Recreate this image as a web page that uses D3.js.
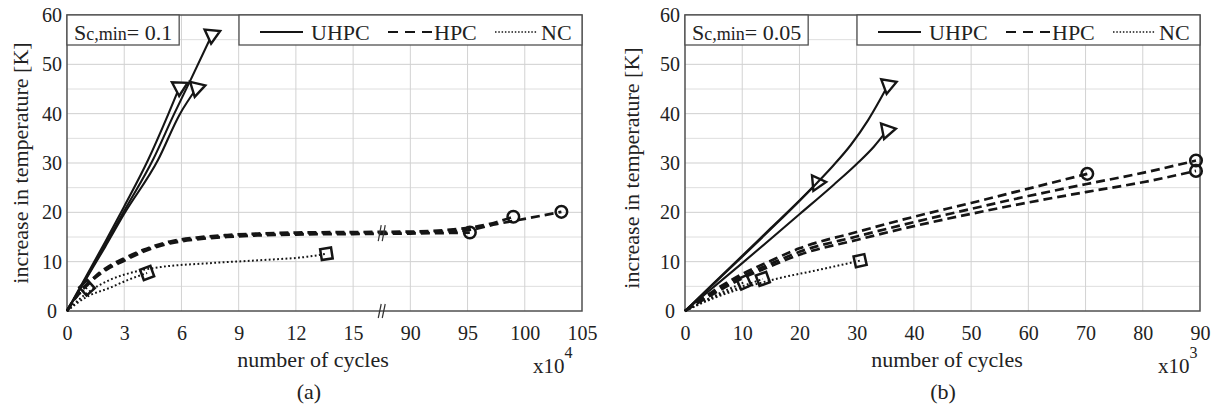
<!DOCTYPE html>
<html>
<head>
<meta charset="utf-8">
<script src="https://cdn.jsdelivr.net/npm/d3@7"></script>
<style>
  html, body { margin: 0; padding: 0; background: #fff; }
  svg, svg text { font-family: "Liberation Serif", "Times New Roman", "DejaVu Serif", serif; }
</style>
</head>
<body>
<svg id="chart" width="1214" height="405"></svg>
<script>
// Temperature rise [K] versus number of load cycles for three concrete grades.
// Panel (a): cycles in units of 10^4, broken axis between 15 and 90.
// Panel (b): cycles in units of 10^3.

const SERIF = "'Liberation Serif', 'Times New Roman', 'DejaVu Serif', serif";

const tempTicks = [0, 10, 20, 30, 40, 50, 60];
const cycleTicksA = [0, 3, 6, 9, 12, 15, 90, 95, 100, 105];
const cycleTicksB = [0, 10, 20, 30, 40, 50, 60, 70, 80, 90];
const legendNames = ["UHPC", "HPC", "NC"];

// ---- panel (a), S_c,min = 0.1
const uhpcA1 = [[0,0],[1,7],[2,14],[3,21.2],[4.25,30.6],[5.3,39.8],[5.9,45.4]];
const uhpcA2 = [[0,0],[1,6.5],[2,13],[3,19.7],[4.77,30.6],[5.9,39.8],[6.8,45.2]];
const uhpcA3 = [[0,0],[1,6.7],[2,13.4],[3,20.3],[4.5,30.6],[5.6,39.8],[6.5,47],[7.6,56]];

const hpcA1 = [[0,0],[0.5,2.9],[1,5],[1.5,6.8],[2,8.2],[3,10.2],[4,12],[5.4,13.7],[6.8,14.5],[8.4,15],[10,15.3],[12,15.5],[15,15.6],[90,15.7],[95.2,15.9]];
const hpcA2 = [[0,0],[0.5,3.1],[1,5.3],[1.5,7.1],[2,8.6],[3,10.7],[4,12.4],[5.4,14.1],[6.8,14.9],[8.4,15.4],[10,15.7],[12,15.9],[15,16],[90,16.1],[93,16.4],[95.5,17],[97.5,18],[99,19.1]];
const hpcA3 = [[0,0],[0.5,3],[1,5.1],[1.5,6.9],[2,8.4],[3,10.4],[4,12.2],[5.4,13.9],[6.8,14.7],[8.4,15.2],[10,15.5],[12,15.7],[15,15.8],[90,15.9],[95,16.4],[97.5,17.6],[100.5,18.9],[103.2,20.1]];

const ncA1 = [[0,0],[0.5,2.8],[1.05,4.7]];
const ncA2 = [[0,0],[1,2.8],[2.25,4.7],[3.2,6.3],[4.2,7.7]];
const ncA3 = [[0,0],[1,3.5],[2.25,6.3],[3.5,7.9],[4.9,8.9],[7.5,9.7],[10.1,10.3],[12.6,11],[13.6,11.6]];

// ---- panel (b), S_c,min = 0.05
const uhpcB1 = [[0,0],[5,5.6],[10,11.2],[15,16.8],[20,22.4],[23.1,26]];
const uhpcB2 = [[0,0],[5,5.5],[10,11],[15,16.6],[20,22.3],[23.1,26],[26,29.6],[29,33.7],[32,38.7],[35.5,45.8]];
const uhpcB3 = [[0,0],[10,9.7],[20,19.6],[26,25.6],[30,29.8],[33,33.3],[35.3,36.6]];

const hpcB1 = [[0,0],[5,4.1],[10,7.5],[15,10.2],[20,12.7],[30,16],[40,19.1],[50,21.9],[60,24.8],[70.3,27.8]];
const hpcB2 = [[0,0],[5,3.8],[10,7],[15,9.6],[20,12],[30,15.1],[40,18],[50,20.7],[60,23.3],[70,25.7],[80,28],[89.3,30.5]];
const hpcB3 = [[0,0],[5,3.5],[10,6.6],[15,9.1],[20,11.4],[30,14.4],[40,17.2],[50,19.7],[60,22],[70,24.1],[80,26.1],[89.3,28.4]];

const ncB1 = [[0,0],[5,3],[10.3,5.8]];
const ncB2 = [[0,0],[5,2.8],[10,5],[13.6,6.5]];
const ncB3 = [[0,0],[5,2.6],[10,4.6],[16.6,6.7],[22.4,8.1],[30.6,10.2]];

// ---- line / marker styles per grade
const styles = {
  UHPC: { width: 2.1, dash: null,      marker: "triangle" },
  HPC:  { width: 2.7, dash: "9,5",     marker: "circle" },
  NC:   { width: 2,   dash: "1.8,2.4", marker: "square" }
};

const svg = d3.select("#chart");
const INK = "#151515";
const TEXT = "#222";

function drawPanel(cfg) {
  const { x, y, left, right, top, bottom } = cfg;
  const g = svg.append("g").attr("font-family", SERIF);

  // grid: horizontal every 5 K, vertical at each labelled tick
  g.append("g").selectAll("line").data(d3.range(5, 60, 5)).join("line")
    .attr("x1", left).attr("x2", right)
    .attr("y1", d => y(d)).attr("y2", d => y(d))
    .attr("stroke", d => d % 10 === 0 ? "#cfcfcf" : "#dedede").attr("stroke-width", 1);
  g.append("g").selectAll("line").data(cfg.xTicks.slice(1, -1)).join("line")
    .attr("x1", d => x(d)).attr("x2", d => x(d))
    .attr("y1", top).attr("y2", bottom)
    .attr("stroke", "#d2d2d2").attr("stroke-width", 1);

  // axes
  const xAxis = d3.axisBottom(x).tickValues(cfg.xTicks).tickSize(0).tickPadding(15);
  const gx = g.append("g").attr("transform", `translate(0,${bottom})`).call(xAxis)
    .attr("font-family", SERIF);
  gx.select(".domain").remove();
  gx.selectAll("text").attr("font-size", 20).attr("fill", TEXT);

  const yAxis = d3.axisLeft(y).tickValues(tempTicks).tickSize(0);
  const gy = g.append("g").attr("transform", `translate(${left},0)`).call(yAxis)
    .attr("font-family", SERIF);
  gy.select(".domain").remove();
  gy.selectAll("text").attr("font-size", 20).attr("fill", TEXT)
    .attr("text-anchor", "middle").attr("x", -15);

  // plot frame
  g.append("rect").attr("x", left).attr("y", top)
    .attr("width", right - left).attr("height", bottom - top)
    .attr("fill", "none").attr("stroke", "#505050").attr("stroke-width", 1.5);

  // curves, each followed by its end marker
  const line = d3.line().x(d => x(d[0])).y(d => y(d[1])).curve(d3.curveMonotoneX);
  const curves = g.append("g");
  cfg.series.forEach(s => {
    const st = styles[s.grade];
    curves.append("path").datum(s.values)
      .attr("d", line).attr("fill", "none")
      .attr("stroke", INK).attr("stroke-width", st.width)
      .attr("stroke-dasharray", st.dash)
      .attr("stroke-linecap", "butt");

    const n = s.values.length;
    const p1 = s.values[n - 1], p0 = s.values[n - 2];
    const px = x(p1[0]), py = y(p1[1]);
    const back = Math.atan2(y(p0[1]) - py, x(p0[0]) - px);
    if (st.marker === "triangle") {
      // downward-pointing triangle, tip leaning toward the incoming curve
      const r = 9;
      const tip = back - 20 * Math.PI / 180;
      const pts = [0, 1, 2].map(k => {
        const a = tip + k * 2 * Math.PI / 3;
        return [px + r * Math.cos(a), py + r * Math.sin(a)];
      });
      curves.append("polygon").attr("points", pts.map(p => p.join(",")).join(" "))
        .attr("fill", "#fff").attr("stroke", INK).attr("stroke-width", 2.4)
        .attr("stroke-linejoin", "miter");
    } else if (st.marker === "circle") {
      curves.append("circle").attr("cx", px).attr("cy", py).attr("r", 5.8)
        .attr("fill", "none").attr("stroke", INK).attr("stroke-width", 2.5);
    } else {
      const deg = back * 180 / Math.PI;
      curves.append("rect").attr("x", -5.5).attr("y", -5.5)
        .attr("width", 11).attr("height", 11)
        .attr("transform", `translate(${px},${py}) rotate(${deg})`)
        .attr("fill", "none").attr("stroke", INK).attr("stroke-width", 2.5);
    }
  });

  // Sc,min box
  const sc = g.append("g");
  const scRect = sc.append("rect").attr("x", left).attr("y", top).attr("height", 30)
    .attr("fill", "#fff").attr("stroke", "#505050").attr("stroke-width", 1.3);
  const scText = sc.append("text").attr("x", left + 7).attr("y", top + 25)
    .attr("fill", TEXT).attr("font-size", 22);
  scText.append("tspan").text("S");
  scText.append("tspan").attr("font-size", 18).text("c,min");
  scText.append("tspan").text("= " + cfg.scMin);
  scRect.attr("width", scText.node().getComputedTextLength() + 14);

  // legend box
  const lx = left + 172;
  const lg = g.append("g");
  lg.append("rect").attr("x", lx).attr("y", top).attr("width", right - lx).attr("height", 30)
    .attr("fill", "#fff").attr("stroke", "#505050").attr("stroke-width", 1.3);
  const ly = top + 17;
  const items = [
    { name: legendNames[0], x1: 21, x2: 64, tx: 72, dash: null, w: 2 },
    { name: legendNames[1], x1: 149, x2: 193, tx: 195, dash: "10,7", w: 2 },
    { name: legendNames[2], x1: 256, x2: 298, tx: 302, dash: "1.5,1.8", w: 1.6 }
  ];
  items.forEach(it => {
    lg.append("line").attr("x1", lx + it.x1).attr("x2", lx + it.x2)
      .attr("y1", ly).attr("y2", ly)
      .attr("stroke", INK).attr("stroke-width", it.w).attr("stroke-dasharray", it.dash);
    lg.append("text").attr("x", lx + it.tx).attr("y", top + 25)
      .attr("font-size", 22).attr("fill", TEXT).text(it.name);
  });

  // axis titles
  g.append("text").attr("transform", `translate(${cfg.yLabelX},${cfg.yLabelY}) rotate(-90)`)
    .attr("text-anchor", "middle").attr("font-size", 22).attr("fill", TEXT)
    .text("increase in temperature [K]");
  g.append("text").attr("x", cfg.xLabelX).attr("y", 367)
    .attr("text-anchor", "middle").attr("font-size", 22).attr("fill", TEXT)
    .text("number of cycles");
  const mult = g.append("text").attr("x", cfg.multX).attr("y", 373)
    .attr("font-size", 21).attr("fill", TEXT);
  mult.append("tspan").text("x10");
  mult.append("tspan").attr("font-size", 16).attr("dy", -15).text(cfg.power);
  g.append("text").attr("x", cfg.captionX).attr("y", 399)
    .attr("text-anchor", "middle").attr("font-size", 22).attr("fill", TEXT)
    .text(cfg.caption);

  return g;
}

// ---- panel (a)
const stepA = (582 - 67) / 9;
const xA = d3.scaleLinear().domain([0, 15, 90, 105])
  .range([67, 67 + 5 * stepA, 67 + 6 * stepA, 582]);
const yA = d3.scaleLinear().domain([0, 60]).range([311, 15]);
const gA = drawPanel({
  x: xA, y: yA, left: 67, right: 582, top: 15, bottom: 311,
  xTicks: cycleTicksA, scMin: "0.1", power: "4", caption: "(a)",
  yLabelX: 28, yLabelY: 163, xLabelX: 313, captionX: 309, multX: 533,
  series: [
    { grade: "UHPC", values: uhpcA1 }, { grade: "UHPC", values: uhpcA2 }, { grade: "UHPC", values: uhpcA3 },
    { grade: "HPC", values: hpcA1 }, { grade: "HPC", values: hpcA2 }, { grade: "HPC", values: hpcA3 },
    { grade: "NC", values: ncA1 }, { grade: "NC", values: ncA2 }, { grade: "NC", values: ncA3 }
  ]
});

// break symbols on the x axis and on the HPC curves (between 15 and 90)
const breakX = (xA(15) + xA(90)) / 2;
[[311, 7], [yA(15.8), 8]].forEach(([cy, h]) => {
  [-2, 2].forEach(off => {
    gA.append("line")
      .attr("x1", breakX + off - 1.5).attr("x2", breakX + off + 1.5)
      .attr("y1", cy + h).attr("y2", cy - h)
      .attr("stroke", "#333").attr("stroke-width", 1.2);
  });
});

// ---- panel (b)
const xB = d3.scaleLinear().domain([0, 90]).range([685, 1200]);
const yB = d3.scaleLinear().domain([0, 60]).range([311, 15]);
drawPanel({
  x: xB, y: yB, left: 685, right: 1200, top: 15, bottom: 311,
  xTicks: cycleTicksB, scMin: "0.05", power: "3", caption: "(b)",
  yLabelX: 639, yLabelY: 168, xLabelX: 947, captionX: 943, multX: 1158,
  series: [
    { grade: "UHPC", values: uhpcB1 }, { grade: "UHPC", values: uhpcB2 }, { grade: "UHPC", values: uhpcB3 },
    { grade: "HPC", values: hpcB1 }, { grade: "HPC", values: hpcB2 }, { grade: "HPC", values: hpcB3 },
    { grade: "NC", values: ncB1 }, { grade: "NC", values: ncB2 }, { grade: "NC", values: ncB3 }
  ]
});
</script>
</body>
</html>
